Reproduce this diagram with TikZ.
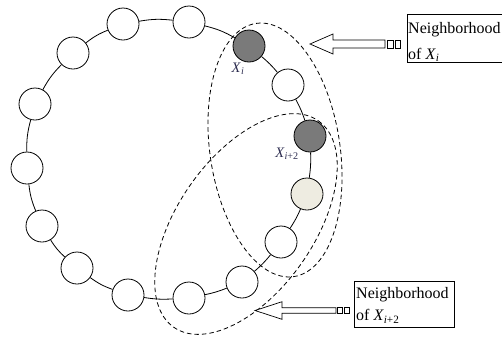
\documentclass[tikz,border=0pt]{standalone}
\usepackage{fontspec}
\setmainfont{Liberation Serif}
\definecolor{nodegray}{RGB}{122,122,122}
\definecolor{nodebeige}{RGB}{238,236,225}
\definecolor{labelink}{RGB}{45,45,80}
\begin{document}
\begin{tikzpicture}[x=1pt,y=-1pt,
  bead/.style={circle,draw,line width=0.8pt,minimum size=32pt,inner sep=0pt,fill=white},
  darkbead/.style={bead,fill=nodegray},
  lightbead/.style={bead,fill=nodebeige},
  ring/.style={line width=0.8pt},
  hood/.style={draw,line width=0.8pt,dash pattern=on 4.5pt off 3pt},
  blockarrow/.style={draw,line width=0.7pt,fill=white},
  labelbox/.style={draw,line width=0.8pt,rectangle,inner sep=0pt},
  boxtext/.style={anchor=base west,inner sep=0pt,font=\fontsize{16}{18}\selectfont},
  xlabel/.style={inner sep=0pt,text=labelink,font=\fontsize{14.5}{16}\selectfont}]
\useasboundingbox (0,0) rectangle (502,338);

% neighbourhoods
\draw[hood, rotate around={98.5:(275,150)}] (275,150) ellipse [x radius=128, y radius=65];
\draw[hood, rotate around={55:(246,224)}] (246,224) ellipse [x radius=126, y radius=68];

% beads
\node[bead] (n1) at (123,24) {};
\node[bead] (n2) at (189,22) {};
\node[darkbead] (n15) at (249,46) {};
\node[bead] (n14) at (288,85) {};
\node[darkbead] (n13) at (310,136) {};
\node[lightbead] (n12) at (307,194) {};
\node[bead] (n11) at (281,242) {};
\node[bead] (n10) at (242,282) {};
\node[bead] (n9) at (189,298) {};
\node[bead] (n8) at (128,295) {};
\node[bead] (n7) at (77,268) {};
\node[bead] (n6) at (42,226) {};
\node[bead] (n5) at (27,168) {};
\node[bead] (n4) at (35,104) {};
\node[bead] (n3) at (73,53) {};

% ring
\foreach \a/\b/\c in {n1/n2/8, n2/n15/8, n15/n14/5, n14/n13/5, n13/n12/5, n12/n11/5,
  n11/n10/5, n10/n9/5, n9/n8/6, n8/n7/8, n7/n6/8, n6/n5/8, n5/n4/8, n4/n3/8, n3/n1/8}
  \draw[ring] (\a) to[bend left=\c] (\b);

% labels
\node[xlabel] (lxi) at (238,69) {\textit{X}\textsubscript{\textit{i}}};
\node[xlabel] (lxi2) at (287,154) {\textit{X}\textsubscript{\textit{i}+2}};

% boxes
\node[labelbox, minimum width=97pt, minimum height=48pt, anchor=north west] (box1) at (407,14) {};
\node[boxtext] (t1a) at (408,33) {Neighborhood};
\node[boxtext] (t1b) at (408,59) {of \textit{X}\textsubscript{\textit{i}}};

\node[labelbox, minimum width=100pt, minimum height=46pt, anchor=north west] (box2) at (354,281) {};
\node[boxtext] (t2a) at (356,298.5) {Neighborhood};
\node[boxtext] (t2b) at (356,320.5) {of \textit{X}\textsubscript{\textit{i}+2}};

% block arrows
\coordinate (tip1) at (310,44);
\draw[blockarrow] (tip1) -- ++(23,-10) -- ++(0,6) -- ++(52,0) -- ++(0,8) -- ++(-52,0) -- ++(0,6) -- cycle;
\draw[blockarrow] (387,40) rectangle (393,48);
\draw[blockarrow] (395,40) rectangle (400,48);

\coordinate (tip2) at (255,310.5);
\draw[blockarrow] (tip2) -- ++(27,-8.8) -- ++(0,6) -- ++(54,0) -- ++(0,5.6) -- ++(-54,0) -- ++(0,6) -- cycle;
\draw[blockarrow] (337.3,307.7) rectangle (342.7,313.3);
\draw[blockarrow] (344.3,307.7) rectangle (349.3,313.3);
\end{tikzpicture}
\end{document}
